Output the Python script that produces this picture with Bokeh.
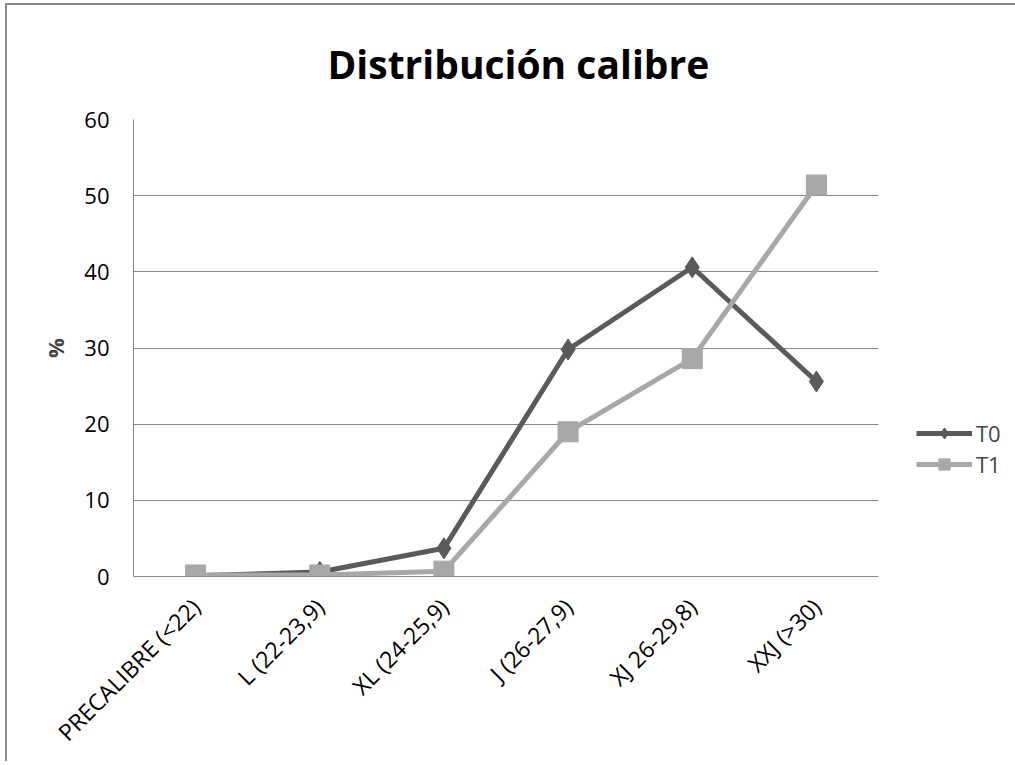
from bokeh.plotting import figure
from bokeh.models import FactorRange, Range1d, FixedTicker, Legend, LegendItem
from bokeh.embed import file_html
from bokeh.resources import INLINE

categories = ["PRECALIBRE (<22)", "L (22-23,9)", "XL (24-25,9)", "J (26-27,9)", "XJ 26-29,8)", "XXJ (>30)"]
t0_values = [0.1, 0.6, 3.7, 29.8, 40.6, 25.6]
t1_values = [0.2, 0.2, 0.7, 19.0, 28.6, 51.4]
y_ticks = [0, 10, 20, 30, 40, 50, 60]

FONT = "Open Sans"
GRID = "#868686"

p = figure(
    x_range=FactorRange(factors=categories),
    y_range=Range1d(0, 60),
    frame_width=745, frame_height=457,
    output_backend="svg", toolbar_location=None,
    min_border_left=126, min_border_right=130,
    min_border_top=113, min_border_bottom=185,
)
p.styles = {"border-left": "2px solid #8a8a8a", "border-top": "2px solid #8a8a8a",
            "margin-left": "5px", "margin-top": "3px"}

p.title.text = "Distribución calibre"
p.title.text_font = FONT
p.title.text_font_size = "39px"
p.title.text_font_style = "bold"
p.title.text_color = "black"
p.title.align = "left"
p.title.offset = 194
p.title.standoff = 59

p.outline_line_color = None
p.xgrid.visible = False
p.ygrid.grid_line_color = GRID
p.ygrid.grid_line_width = 1
p.yaxis.ticker = FixedTicker(ticks=y_ticks)

for ax in (p.xaxis[0], p.yaxis[0]):
    ax.axis_line_color = GRID
    ax.major_tick_line_color = None
    ax.minor_tick_line_color = None
    ax.major_label_text_font = FONT
    ax.major_label_text_color = "black"

p.yaxis.major_label_text_font_size = "22px"
p.yaxis.major_label_standoff = 18
p.yaxis.axis_label = "%"
p.yaxis.axis_label_text_font = FONT
p.yaxis.axis_label_text_font_size = "22px"
p.yaxis.axis_label_text_font_style = "bold"
p.yaxis.axis_label_standoff = 11

p.xaxis.major_label_text_font_size = "23px"
p.xaxis.major_label_orientation = 0.785398
p.xaxis.major_label_standoff = 20

T0_COLOR = "#5a5a5a"
T1_COLOR = "#a8a8a8"

l0 = p.line(categories, t0_values, line_color=T0_COLOR, line_width=5)
m0 = p.scatter(categories, t0_values, marker="diamond", size=21, fill_color=T0_COLOR, line_color=T0_COLOR)
l1 = p.line(categories, t1_values, line_color=T1_COLOR, line_width=5)
m1 = p.scatter(categories, t1_values, marker="square", size=20, fill_color=T1_COLOR, line_color=T1_COLOR)

legend = Legend(
    items=[LegendItem(label="T0", renderers=[l0, m0]), LegendItem(label="T1", renderers=[l1, m1])],
    location="top_left",
    title=" ", title_text_font_size="10px", title_standoff=250,
    border_line_color=None, background_fill_alpha=0,
    label_text_font=FONT, label_text_font_size="22px",
    glyph_width=56, glyph_height=28, spacing=1, padding=0, margin=38,
    label_standoff=4,
)
p.add_layout(legend, "right")

open("out.html", "w").write(file_html(p, INLINE))
